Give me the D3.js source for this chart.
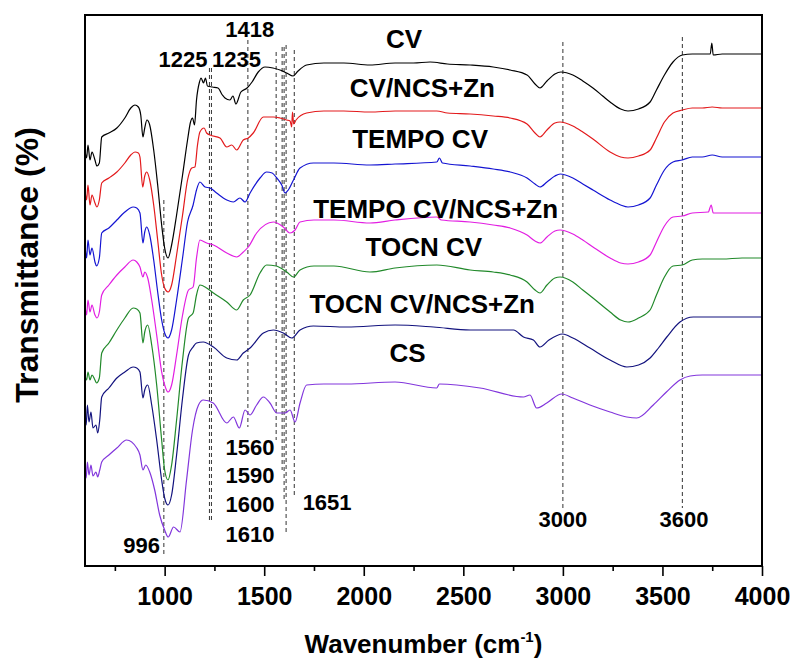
<!DOCTYPE html>
<html>
<head>
<meta charset="utf-8">
<script src="https://cdn.jsdelivr.net/npm/d3@7"></script>
<style>
	body { margin: 0; background: #fff; }
	svg { display: block; font-family: "Liberation Sans", Arial, sans-serif; font-weight: bold; }
	.frame { fill: none; stroke: #000; stroke-width: 2; }
	.axis path { display: none; }
	.axis line { stroke: #000; stroke-width: 1.6; }
	.axis text { font-size: 25px; font-weight: bold; fill: #000; font-family: "Liberation Sans", Arial, sans-serif; }
	.spectrum { fill: none; stroke-width: 1.2; stroke-linejoin: round; }
	.marker { stroke: #333; stroke-width: 1; stroke-dasharray: 4,3; }
</style>
</head>
<body>
<div id="chart"></div>
<script>
// wavenumber (cm-1), transmittance (a.u., offset stacked)
const cv = [[600,83.2],[608,81.6],[615,84.2],[625,81.2],[635,82.8],[650,81.2],[660,80],[672,80.6],[684,85.8],[720,86.6],[760,87.6],[800,89.6],[830,91.6],[851,92.2],[868,91.8],[880,90.2],[891,85.8],[900,87.6],[911,89.2],[925,88.2],[945,83.2],[965,76.2],[985,68.2],[1000,63.6],[1017,61.6],[1035,64.2],[1060,70.2],[1090,78.2],[1115,85.2],[1130,88.8],[1140,89.6],[1150,88.2],[1160,93.2],[1175,96.8],[1183,97.6],[1195,96.6],[1205,97.6],[1215,96],[1240,95.8],[1268,95.6],[1290,94.2],[1303,93.6],[1328,93.2],[1343,94],[1358,92.4],[1383,94.8],[1414,95.6],[1439,96.8],[1470,98.8],[1504,99.8],[1544,99.6],[1579,99.2],[1613,98.6],[1645,98],[1670,99],[1713,100.2],[1800,100.6],[1900,100.6],[2031,100.2],[2157,100.6],[2250,100.6],[2333,100.8],[2420,100.4],[2534,100.2],[2650,99.8],[2735,99.2],[2820,98.2],[2860,96.4],[2885,95.6],[2920,97],[2960,98.4],[2990,98.8],[3050,98.2],[3100,97],[3151,95.6],[3200,94],[3237,92.8],[3290,91.4],[3327,91],[3380,91.4],[3438,92.8],[3470,95.2],[3510,98.2],[3553,100.8],[3600,102.2],[3650,102.4],[3740,102.4],[3748,104.6],[3755,102.2],[3800,102.4],[3900,102.4],[4000,102.4]];

const cvNcsZn = [[600,75.2],[608,73.2],[615,76.2],[625,72.2],[635,74.2],[650,72.6],[660,71.8],[672,73.2],[684,76.6],[720,77.6],[760,78.8],[800,80.6],[830,82.2],[851,82.8],[868,82.6],[876,81.8],[890,75.8],[900,78],[910,78.8],[925,77.2],[945,72.2],[965,65.2],[985,58.2],[1000,55.6],[1017,54.8],[1035,56.2],[1060,62.2],[1090,70.2],[1115,77.2],[1136,79.6],[1152,79.8],[1165,84.2],[1177,86.8],[1198,87.6],[1211,86.6],[1228,86.2],[1278,85.6],[1312,83.8],[1337,84.2],[1362,83.2],[1395,85.2],[1420,85.6],[1445,86.6],[1496,89.8],[1546,89.8],[1579,89.6],[1613,89.2],[1630,89],[1638,87.8],[1642,90.8],[1648,88.4],[1660,89.2],[1713,90.6],[1800,91],[1900,91],[2031,90.8],[2157,91],[2367,91],[2420,90.6],[2534,90.4],[2650,90],[2735,89.6],[2820,88.4],[2860,86.6],[2885,85.8],[2920,87.2],[2960,88.6],[2986,88.8],[3050,88],[3100,86.8],[3151,85.4],[3237,82.8],[3290,81.8],[3327,81.6],[3380,82],[3438,83.2],[3470,85.6],[3510,88.8],[3553,90.6],[3600,91.2],[3650,91.6],[3700,91.6],[3750,91.8],[3800,91.6],[3900,91.6],[4000,91.6]];

const tempoCv = [[600,64.2],[608,61.6],[615,65.2],[625,62.2],[635,63.6],[650,60.8],[658,60],[672,61.6],[684,66.6],[720,67.6],[760,69.2],[800,70.8],[842,71.8],[860,71.6],[876,70.6],[891,64.6],[900,66.8],[910,67.8],[925,66.2],[945,61.2],[965,54.8],[985,49.2],[1000,46.6],[1017,45.6],[1035,47.2],[1060,53.2],[1090,61.6],[1115,68.8],[1143,72.2],[1160,75.2],[1177,76.8],[1203,75.8],[1228,75.6],[1261,74.6],[1312,73.2],[1345,72.8],[1378,73.6],[1404,72.8],[1429,74.6],[1479,77.6],[1512,78.8],[1540,78.6],[1563,77.6],[1588,76.2],[1605,74.6],[1621,75.2],[1647,77.2],[1680,79.6],[1747,80.6],[1850,80.6],[2031,80.2],[2157,80.4],[2367,80.8],[2380,81.6],[2395,80.6],[2534,80],[2650,79.4],[2735,78.8],[2820,77.6],[2860,76.4],[2885,75.8],[2920,76.8],[2960,78],[2986,78.4],[3050,77.6],[3100,76.4],[3151,75.2],[3237,73.2],[3290,72.2],[3327,71.8],[3380,72.2],[3438,73.6],[3470,76.2],[3510,79.2],[3553,80.8],[3600,81.2],[3650,81.8],[3700,81.8],[3750,82.2],[3800,81.8],[3900,81.8],[4000,81.8]];

const tempoCvNcsZn = [[600,52.2],[608,50.2],[615,53.2],[625,50.8],[635,52.2],[650,50.2],[660,49.6],[672,50.8],[684,54.2],[720,56.2],[760,58.2],[800,59.8],[842,61.2],[860,60.8],[876,59.8],[891,57.8],[900,58.8],[915,57.6],[935,53.2],[960,46.2],[985,38.8],[1000,36.2],[1017,34.8],[1035,36.2],[1060,42.2],[1090,50.2],[1120,55.2],[1143,55.8],[1160,61.6],[1177,65.2],[1211,64.6],[1245,64.2],[1312,62.6],[1362,61.8],[1395,62.8],[1420,63.8],[1462,66.6],[1546,68.8],[1596,67.8],[1629,66.6],[1655,67.2],[1680,68.8],[1750,69.2],[1850,69.2],[2031,68.6],[2157,69.2],[2367,69.8],[2390,69.2],[2534,68.8],[2650,68.2],[2735,67.6],[2820,66.2],[2860,65],[2885,64.6],[2920,65.8],[2960,67],[2986,67.2],[3050,66.4],[3100,65.2],[3151,63.8],[3237,61.6],[3290,60.6],[3327,60.4],[3380,60.8],[3438,62.2],[3470,64.8],[3510,68],[3553,69.8],[3600,70],[3650,70.6],[3730,70.8],[3745,72.2],[3755,70.6],[3800,70.6],[3900,70.6],[4000,70.6]];

const tocnCv = [[600,38.2],[608,37.2],[615,38.8],[625,37.2],[635,38.2],[650,37.2],[658,36.6],[672,37.6],[684,42.6],[720,44.6],[760,47.2],[800,49.6],[842,51.6],[860,51.4],[876,50.6],[891,44.6],[900,46.8],[915,48.2],[935,44.2],[960,36.2],[985,25.2],[1000,19.2],[1017,17.2],[1035,20.2],[1060,29.2],[1090,41.2],[1120,49.6],[1143,50.6],[1160,54.2],[1177,56.2],[1211,55.6],[1245,54.6],[1312,52.8],[1362,51.2],[1395,53.2],[1429,54.2],[1479,58.6],[1512,60.2],[1560,60],[1613,58.8],[1647,57.8],[1680,59.2],[1750,60],[1850,60],[2031,58.8],[2157,59.6],[2367,60.2],[2534,59.2],[2650,58.8],[2735,58.2],[2820,56.8],[2860,55.2],[2885,54.6],[2920,56.2],[2960,57.6],[2986,57.8],[3050,56.8],[3100,55.2],[3151,53.6],[3237,50.8],[3290,49.2],[3327,48.8],[3380,49.6],[3438,51.2],[3470,54.2],[3510,57.8],[3553,60],[3600,60.2],[3650,61.2],[3700,61.4],[3800,61.4],[3900,61.6],[4000,61.6]];

const tocnCvNcsZn = [[600,31.2],[606,28.2],[612,32.2],[620,28.8],[630,30.8],[640,27.6],[655,28.2],[664,26.6],[674,29.2],[684,33.8],[720,35.6],[760,37.6],[800,38.8],[842,39.8],[860,39.6],[876,38.8],[891,33.6],[900,35.2],[915,36.2],[935,32.2],[960,25.2],[985,17.2],[1000,13.6],[1017,12.2],[1035,14.2],[1060,22.2],[1090,33.6],[1120,42.2],[1143,43.8],[1160,44.6],[1194,44.8],[1245,43.8],[1312,41.6],[1362,41.2],[1395,42.6],[1429,43.6],[1496,46.6],[1546,47.2],[1596,46.6],[1638,45.6],[1680,47.2],[1747,48],[1914,47.8],[2157,48.2],[2350,47.8],[2534,47.2],[2752,47.2],[2802,45.8],[2852,45.2],[2885,43.8],[2930,45.2],[2999,46.4],[3050,45.6],[3136,43.6],[3237,41.2],[3321,39.8],[3380,40.2],[3438,41.6],[3480,43.6],[3522,45.8],[3588,48.8],[3655,49.8],[3700,49.8],[3800,49.8],[3900,49.8],[4000,49.8]];

const cs = [[600,19.6],[606,17.6],[612,20.8],[620,18.2],[630,20.2],[640,18],[655,18.8],[664,17.8],[674,19.2],[684,20.8],[720,22.2],[760,23.6],[809,25.2],[860,23.6],[876,22.2],[891,19.2],[905,20.2],[925,18.8],[950,15.2],[975,10.2],[1000,7.2],[1018,5.8],[1045,7.8],[1077,6.8],[1110,17.2],[1140,27.2],[1170,32.2],[1194,33.2],[1244,32.6],[1312,28.6],[1345,29.8],[1375,27.6],[1404,31.2],[1429,30.2],[1462,32.2],[1496,33.8],[1529,32.6],[1563,30.6],[1605,30.6],[1630,31.2],[1655,28.8],[1680,32.6],[1713,36.2],[1800,36.4],[1914,36.4],[2157,36.8],[2366,35.6],[2380,36.4],[2584,35.6],[2802,33.8],[2835,34.2],[2868,31.6],[2919,32.6],[2994,34.4],[3050,33.6],[3136,32.2],[3237,30.8],[3321,29.8],[3371,29.6],[3454,32.2],[3520,34.8],[3588,37.2],[3639,38],[3700,38.2],[3800,38.2],[3900,38.2],[4000,38.2]];

const seriesNames = ['CV', 'CV/NCS+Zn', 'TEMPO CV', 'TEMPO CV/NCS+Zn', 'TOCN CV', 'TOCN CV/NCS+Zn', 'CS'];
const seriesData = [cv, cvNcsZn, tempoCv, tempoCvNcsZn, tocnCv, tocnCvNcsZn, cs];
const seriesColors = ['#000000', '#e31a1c', '#1414d2', '#e21ee2', '#21892a', '#12127e', '#8236dc'];

// series label: anchor wavenumber, transmittance of baseline, text anchor
const seriesLabelWn = [2202, 2659, 2624, 2976, 2594, 2860, 2220];
const seriesLabelT = [103.6, 93.8, 83.6, 69.6, 62, 50.6, 40.8];
const seriesLabelAnchor = ['middle', 'end', 'end', 'end', 'end', 'end', 'middle'];

// dashed peak markers: wavenumber, top, bottom (transmittance)
const markerWn = [996, 1225, 1235, 1418, 1560, 1590, 1600, 1610, 1651, 3000, 3600];
const markerTop = [73.2, 99.6, 99.6, 105.2, 102.8, 103.8, 103.8, 104.2, 103.2, 104.8, 105.8];
const markerBottom = [1.8, 9.2, 9.2, 27.8, 25.2, 19.2, 13.2, 6.2, 13.8, 11.6, 11.6];

// peak annotations
const peakText = ['1225', '1235', '1418', '1560', '1590', '1600', '1610', '1651', '996', '3000', '3600'];
const peakWn = [1215, 1238, 1427, 1429, 1429, 1429, 1429, 1693, 977, 3000, 3608];
const peakT = [99.8, 99.8, 105.8, 22.2, 16.6, 10.8, 4.8, 11.2, 2.6, 7.8, 7.8];
const peakAnchor = ['end', 'start', 'middle', 'middle', 'middle', 'middle', 'middle', 'start', 'end', 'middle', 'middle'];

const majorTicks = [1000, 1500, 2000, 2500, 3000, 3500, 4000];
const minorTicks = [750, 1250, 1750, 2250, 2750, 3250, 3750];

const margin = { top: 15, right: 31, bottom: 93, left: 85 };
const width = 793 - margin.left - margin.right;
const height = 659 - margin.top - margin.bottom;

const x = d3.scaleLinear().domain([600, 4000]).range([0, width]);
const y = d3.scaleLinear().domain([0, 110.2]).range([height, 0]);

const svg = d3.select('#chart').append('svg')
	.attr('width', 793)
	.attr('height', 659);

const g = svg.append('g')
	.attr('transform', `translate(${margin.left},${margin.top})`);

// dashed markers
g.selectAll('.marker')
	.data(markerWn)
	.enter().append('line')
	.attr('class', 'marker')
	.attr('x1', (d) => x(d))
	.attr('x2', (d) => x(d))
	.attr('y1', (d, i) => y(markerTop[i]))
	.attr('y2', (d, i) => y(markerBottom[i]));

// spectra
const line = d3.line()
	.x((d) => x(d[0]))
	.y((d) => y(d[1]))
	.curve(d3.curveMonotoneX);

g.selectAll('.spectrum')
	.data(seriesData)
	.enter().append('path')
	.attr('class', 'spectrum')
	.attr('stroke', (d, i) => seriesColors[i])
	.attr('d', line);

// series names
g.selectAll('.series-label')
	.data(seriesNames)
	.enter().append('text')
	.attr('class', 'series-label')
	.attr('x', (d, i) => x(seriesLabelWn[i]))
	.attr('y', (d, i) => y(seriesLabelT[i]))
	.attr('text-anchor', (d, i) => seriesLabelAnchor[i])
	.style('font-size', '26px')
	.text((d) => d);

// peak numbers
g.selectAll('.peak-label')
	.data(peakText)
	.enter().append('text')
	.attr('class', 'peak-label')
	.attr('x', (d, i) => x(peakWn[i]))
	.attr('y', (d, i) => y(peakT[i]))
	.attr('text-anchor', (d, i) => peakAnchor[i])
	.style('font-size', '22px')
	.text((d) => d);

// x axis
const axisMajor = g.append('g')
	.attr('class', 'axis')
	.attr('transform', `translate(0,${height})`)
	.call(d3.axisBottom(x).tickValues(majorTicks).tickSize(10).tickFormat(d3.format('d')));
axisMajor.selectAll('text').attr('dy', null).attr('y', 39);

g.append('g')
	.attr('class', 'axis')
	.attr('transform', `translate(0,${height})`)
	.call(d3.axisBottom(x).tickValues(minorTicks).tickSize(5).tickFormat(''));

// frame
g.append('rect')
	.attr('class', 'frame')
	.attr('width', width)
	.attr('height', height);

// axis titles
const xTitle = svg.append('text')
	.attr('x', margin.left + width / 2)
	.attr('y', 653)
	.attr('text-anchor', 'middle')
	.style('font-size', '26px');
xTitle.append('tspan').text('Wavenumber (cm');
xTitle.append('tspan').attr('dy', -11).style('font-size', '15px').text('-1');
xTitle.append('tspan').attr('dy', 11).text(')');

svg.append('text')
	.attr('transform', 'translate(38,265) rotate(-90)')
	.attr('text-anchor', 'middle')
	.style('font-size', '32px')
	.text('Transmittance (%)');
</script>
</body>
</html>
